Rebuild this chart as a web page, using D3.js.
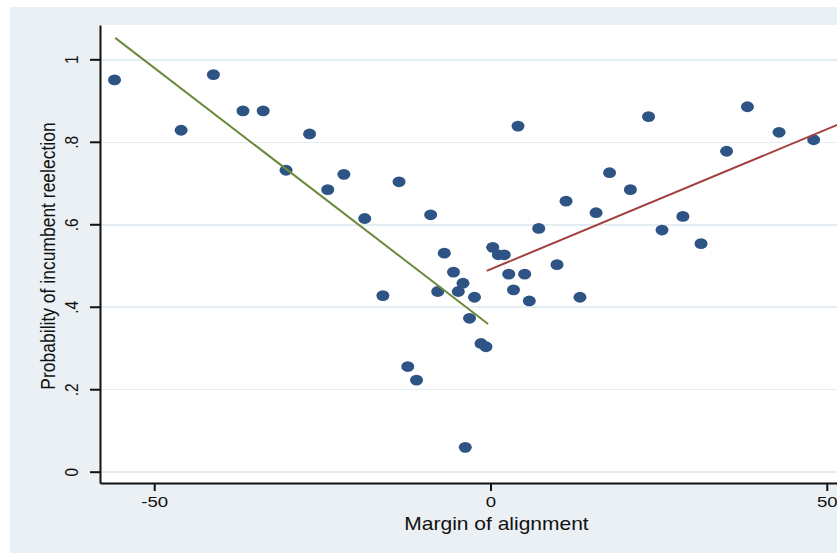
<!DOCTYPE html>
<meta charset="utf-8">
<style>
  body { margin: 0; background: #fff; }
  svg { display: block; font-family: "Liberation Sans", Arial, sans-serif; }
  .grid line { stroke: #e4edf1; stroke-width: 1.5px; shape-rendering: crispEdges; }
  .axis path, .axis line { stroke: #111; stroke-width: 2px; }
  .axis text { fill: #111; font-size: 15.5px; }
  .fit { fill: none; stroke-width: 2px; }
</style>
<body>
<script src="https://d3js.org/d3.v7.min.js"></script>
<script>

  // scatter points: margin of alignment vs. probability of reelection
  var margins = [-55.9, -46.0, -41.2, -36.8, -33.8, -30.4, -26.9, -24.2, -21.8, -18.7,
                 -16.0, -13.6, -12.3, -11.0, -8.9, -7.85, -6.87, -5.5, -4.79, -4.09,
                 -3.75, -3.12, -2.38, -1.41, -0.67, 0.33, 1.16, 2.05, 2.71, 3.42,
                 4.09, 5.08, 5.77, 7.17, 9.89, 11.23, 13.3, 15.7, 17.7, 20.8,
                 23.5, 25.5, 28.6, 31.3, 35.1, 38.2, 42.9, 48.05];
  var probs   = [0.950, 0.828, 0.963, 0.875, 0.875, 0.731, 0.819, 0.684, 0.721, 0.614,
                 0.427, 0.703, 0.255, 0.222, 0.623, 0.437, 0.530, 0.484, 0.437, 0.457,
                 0.059, 0.372, 0.423, 0.311, 0.303, 0.544, 0.526, 0.526, 0.479, 0.441,
                 0.838, 0.479, 0.414, 0.590, 0.502, 0.656, 0.423, 0.628, 0.725, 0.684,
                 0.861, 0.586, 0.619, 0.553, 0.777, 0.885, 0.823, 0.805];

  // fitted lines (endpoints), left and right of zero
  var fitLeft  = [[-55.8, 1.052], [-0.35, 0.358]];
  var fitRight = [[-0.56, 0.487], [52.0, 0.844]];

  var xTicks = [-50, 0, 50];
  var xTickLabels = ["-50", "0", "50"];
  var yTicks = [0, 0.2, 0.4, 0.6, 0.8, 1];
  var yTickLabels = ["0", ".2", ".4", ".6", ".8", "1"];

  var W = 837, H = 555;
  var plot = {left: 100, top: 25, right: 850, bottom: 483};
  var stretch = "scale(1.2,1)"; // the reference is a bit wider than tall

  var x = d3.scaleLinear().domain([-58.06, 53.45]).range([plot.left, plot.right]);
  var y = d3.scaleLinear().domain([-0.0274, 1.0832]).range([plot.bottom, plot.top]);

  var svg = d3.select("body").append("svg")
      .attr("width", W)
      .attr("height", H);

  // outer graph region
  svg.append("rect")
      .attr("x", 10).attr("y", 7)
      .attr("width", W).attr("height", 546)
      .attr("fill", "#eaf0f3");

  // plot region
  svg.append("rect")
      .attr("x", plot.left).attr("y", plot.top)
      .attr("width", plot.right - plot.left).attr("height", plot.bottom - plot.top)
      .attr("fill", "#fff");

  svg.append("clipPath").attr("id", "clip")
    .append("rect")
      .attr("x", plot.left).attr("y", plot.top)
      .attr("width", plot.right - plot.left).attr("height", plot.bottom - plot.top);

  // horizontal gridlines
  svg.append("g")
      .attr("class", "grid")
      .attr("transform", "translate(" + plot.left + ",0)")
      .call(d3.axisLeft(y).tickValues(yTicks).tickSize(-(plot.right - plot.left)).tickFormat(""))
      .call(function(g) { g.select(".domain").remove(); });

  var inner = svg.append("g").attr("clip-path", "url(#clip)");

  // points
  var pts = margins.map(function(m, i) { return {x: m, y: probs[i]}; });
  inner.selectAll("ellipse")
      .data(pts)
    .enter().append("ellipse")
      .attr("cx", function(d) { return x(d.x); })
      .attr("cy", function(d) { return y(d.y); })
      .attr("rx", 6.5)
      .attr("ry", 5.4)
      .attr("fill", "#2e5385");

  var line = d3.line()
      .x(function(d) { return x(d[0]); })
      .y(function(d) { return y(d[1]); });

  inner.append("path").datum(fitLeft)
      .attr("class", "fit")
      .attr("stroke", "#6c8a3c")
      .attr("d", line);

  inner.append("path").datum(fitRight)
      .attr("class", "fit")
      .attr("stroke", "#a2403f")
      .attr("d", line);

  // x axis
  svg.append("g")
      .attr("class", "axis")
      .attr("transform", "translate(0," + plot.bottom + ")")
      .call(d3.axisBottom(x).tickValues(xTicks).tickSize(8).tickSizeOuter(0)
              .tickFormat(function(d, i) { return xTickLabels[i]; }))
      .call(function(g) {
        g.selectAll("text")
          .attr("y", 24.5).attr("dy", 0)
          .attr("transform", stretch);
      });

  // y axis
  svg.append("g")
      .attr("class", "axis")
      .attr("transform", "translate(" + plot.left + ",0)")
      .call(d3.axisLeft(y).tickValues(yTicks).tickSize(10).tickSizeOuter(0)
              .tickFormat(function(d, i) { return yTickLabels[i]; }))
      .call(function(g) {
        g.selectAll("text")
          .attr("x", 0).attr("y", 0).attr("dy", 0)
          .attr("text-anchor", "middle")
          .attr("transform", "translate(-22,0) " + stretch + " rotate(-90)");
      });

  // axis titles
  svg.append("text")
      .attr("transform", "translate(496.5,530) " + stretch)
      .attr("text-anchor", "middle")
      .attr("font-size", "17.5px")
      .attr("fill", "#111")
      .text("Margin of alignment");

  svg.append("text")
      .attr("transform", "translate(55,256) " + stretch + " rotate(-90)")
      .attr("text-anchor", "middle")
      .attr("font-size", "17.5px")
      .attr("fill", "#111")
      .text("Probability of incumbent reelection");

</script>
</body>
